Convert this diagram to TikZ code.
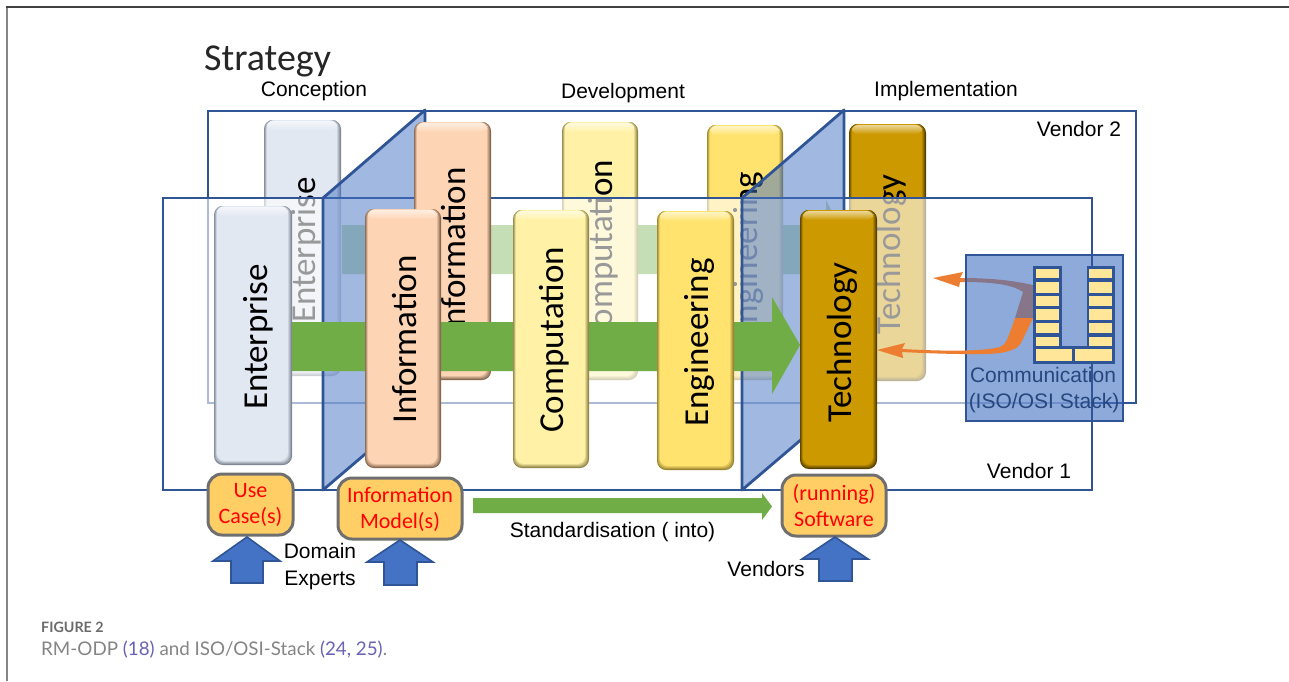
\documentclass[tikz,border=0pt]{standalone}
\usepackage{fontspec}
\setmainfont{Carlito}
\newfontfamily\arialf{Liberation Sans}
\newfontfamily\capf{Lato}
\definecolor{lineblue}{HTML}{2F5597}
\definecolor{planeblue}{HTML}{4472C4}
\definecolor{arrowgreen}{HTML}{70AD47}
\definecolor{arroworange}{HTML}{ED7D31}
\definecolor{cellyellow}{HTML}{FFE699}
\definecolor{boxorange}{HTML}{FFCF66}
\definecolor{boxgrey}{HTML}{6F6F6F}
\definecolor{capgrey}{HTML}{858585}
\definecolor{capblue}{HTML}{6A62B4}
\definecolor{commtext}{HTML}{27477F}
\definecolor{entbase}{HTML}{E2E8F2}\definecolor{entdark}{HTML}{7F8794}
\definecolor{infbase}{HTML}{FDD5B5}\definecolor{infdark}{HTML}{86664E}
\definecolor{compbase}{HTML}{FFF2A6}\definecolor{compdark}{HTML}{928548}
\definecolor{engbase}{HTML}{FFE36E}\definecolor{engdark}{HTML}{98822F}
\definecolor{techbase}{HTML}{CC9900}\definecolor{techdark}{HTML}{574000}
\tikzset{
  vendorline/.style={draw=lineblue,line width=2.8pt},
  planeshape/.style={fill=planeblue,fill opacity=0.5,draw=lineblue,draw opacity=1,line width=2.8pt,line join=round},
  bartext/.style={rotate=90,anchor=base,inner sep=0pt,font=\fontsize{35}{37}\selectfont,text=black},
  labeltext/.style={inner sep=0pt,font=\arialf\fontsize{21}{27}\selectfont,text=black,align=center},
  usebox/.style={draw=boxgrey,fill=boxorange,line width=3pt,rounded corners=14pt},
  redtext/.style={inner sep=0pt,align=center,text=red,font=\fontsize{22}{26}\selectfont},
  bluearrow/.style={fill=planeblue,draw=lineblue,line width=1.6pt,line join=miter},
  stackcell/.style={fill=cellyellow,draw=none},
}
\newcommand{\odpbar}[6]{% x1 y1 x2 y2 base dark
  \fill[#6,rounded corners=9pt] (#1,#2) rectangle (#3,#4);
  \foreach \i/\p in {1/25,2/50,3/75,4/100}{
    \fill[#5!\p!#6,rounded corners=8pt] ({#1+0.7*\i},#2) rectangle ({#3-\i},{#4-\i});
  }
  \shade[top color=#5!40!white,bottom color=#5,rounded corners=6pt] ({#1+3},{#2+1}) rectangle ({#3-4},{#2+10});
}
\begin{document}
\begin{tikzpicture}[x=1pt,y=-1pt]
\useasboundingbox (0,0) rectangle (1289,681);
\fill[white] (0,0) rectangle (1289,681);
% page frame
\draw[color=capgrey,line width=2pt] (7,7) -- (7,681);
\draw[color=black!75,line width=1.6pt] (6,7) -- (1289,7);
% vendor 2
\draw[vendorline] (208,111) rectangle (1136,403);
% back arrow
\fill[arrowgreen] (342,225) -- (826,225) -- (826,200) -- (851,249) -- (826,298) -- (826,274) -- (342,274) -- cycle;
% back bars
\odpbar{264}{120}{341}{376}{entbase}{entdark}
\odpbar{562}{122}{638}{380}{compbase}{compdark}
\odpbar{707}{125}{783}{380}{engbase}{engdark}
\odpbar{849}{124}{926}{381}{techbase}{techdark}
\node[bartext] (backent) at (315,250) {Enterprise};
\node[bartext] (backcomp) at (612,253) {Computation};
\node[bartext] (backeng) at (757,256) {Engineering};
\node[bartext] (backtech) at (900,254.5) {Technology};
% vendor 1 veil and outline
\fill[white,fill opacity=0.6] (163,198) rectangle (1092,490);
\draw[vendorline] (163,198) rectangle (1092,490);
% planes
\draw[planeshape] (323,490) -- (323,198) -- (425,110) -- (425,403) -- cycle;
\draw[planeshape] (742,490) -- (742,198) -- (844,110) -- (844,403) -- cycle;
% back information bar stands in front of the plane
\odpbar{414}{122}{491}{380}{infbase}{infdark}
\node[bartext] (backinf) at (465,251.5) {Information};
% front arrow
\fill[arrowgreen] (291,322) -- (772,322) -- (772,297) -- (800,345) -- (772,394) -- (772,371) -- (291,371) -- cycle;
% front bars
\odpbar{214}{206}{292}{465}{entbase}{entdark}
\odpbar{365}{209}{441}{468}{infbase}{infdark}
\odpbar{513}{210}{589}{468}{compbase}{compdark}
\odpbar{657}{211}{734}{470}{engbase}{engdark}
\odpbar{800}{210}{877}{469}{techbase}{techdark}
\node[bartext] (frontent) at (267,337) {Enterprise};
\node[bartext] (frontinf) at (416,339.5) {Information};
\node[bartext] (frontcomp) at (563,340) {Computation};
\node[bartext] (fronteng) at (708,342.5) {Engineering};
\node[bartext] (fronttech) at (851,342.5) {Technology};
% upper orange arrow (runs under the comm box)
\fill[arroworange] (1033,285) .. controls (1010,280) and (990,278) .. (960,278)
  -- (963,272) -- (933,278) -- (959,287) -- (960,282)
  .. controls (985,282) and (1010,283) .. (1023,292) -- (1015,318) -- (1033,318) -- cycle;
% comm box
\fill[planeblue,fill opacity=0.6] (966,255) rectangle (1123,421);
\draw[vendorline] (966,255) rectangle (1123,421);
% lower orange arrow
\fill[arroworange] (1033,318) -- (1015,318) .. controls (1008,338) and (1006,345) .. (1000,347)
  .. controls (980,352) and (940,351) .. (902,349)
  -- (905,343) -- (877,350) -- (903,358) -- (902,352)
  .. controls (940,354) and (985,355) .. (1000,353)
  .. controls (1012,351) and (1018,348) .. (1021,343) -- cycle;
% vendor 1 right side over the comm box
\coordinate (vtop) at (1092,198);
\coordinate (vbot) at (1092,490);
\draw[vendorline] (vtop) -- (vbot);
% stacks
\fill[lineblue] (1033,266) rectangle (1062,349);
\fill[lineblue] (1087,266) rectangle (1115,349);
\fill[lineblue] (1033,346) rectangle (1115,364);
\foreach \a/\b in {269/278,282/293,296/306,309/320,323/333,337/346}{
  \fill[stackcell] (1036,\a) rectangle (1059,\b);
  \fill[stackcell] (1089,\a) rectangle (1112,\b);
}
\fill[stackcell] (1036,349) rectangle (1072,361);
\fill[stackcell] (1075,349) rectangle (1112,361);
\node[labeltext,text=commtext] (commone) at (1043,375) {Communication};
\node[labeltext,text=commtext] (commtwo) at (1044,403) {(ISO/OSI Stack)};
% bottom boxes
\node[usebox,minimum width=85pt,minimum height=61pt,inner sep=0pt] (usecase) at (250.5,504.5) {};
\node[usebox,minimum width=124pt,minimum height=61pt,inner sep=0pt] (infomodel) at (400,508.5) {};
\node[usebox,minimum width=104pt,minimum height=61pt,inner sep=0pt] (software) at (834,505.5) {};
\node[redtext] (usetext) at (250.5,505) {Use\\Case(s)};
\node[redtext] (infotext) at (400,509.5) {Information\\Model(s)};
\node[redtext] (softtext) at (834,506) {(running)\\Software};
% standardisation arrow
\fill[arrowgreen] (473,498) -- (762,498) -- (762,493) -- (772,506.5) -- (762,520) -- (762,513) -- (473,513) -- cycle;
% blue arrows
\draw[bluearrow] (247,537) -- (280,561) -- (263,561) -- (263,583) -- (231,583) -- (231,561) -- (213,561) -- cycle;
\draw[bluearrow] (400,540) -- (433,562) -- (417,562) -- (417,585) -- (384,585) -- (384,562) -- (367,562) -- cycle;
\draw[bluearrow] (835,537) -- (868,559) -- (852,559) -- (852,581) -- (819,581) -- (819,559) -- (802,559) -- cycle;
% labels
\node[inner sep=0pt,anchor=base west,font=\fontsize{38}{40}\selectfont,text=black!85] (strategy) at (204,70) {Strategy};
\node[labeltext] (conception) at (314,91) {Conception};
\node[labeltext] (development) at (623,93.5) {Development};
\node[labeltext] (implementation) at (946,91) {Implementation};
\node[labeltext] (vendortwo) at (1079,128.5) {Vendor 2};
\node[labeltext] (vendorone) at (1029,470.5) {Vendor 1};
\node[labeltext] (standard) at (612.5,532) {Standardisation ( into)};
\node[labeltext] (domain) at (320,567) {Domain\\Experts};
\node[labeltext] (vendors) at (766,568.5) {Vendors};
% caption
\node[inner sep=0pt,anchor=base west,font=\capf\bfseries\fontsize{14.3}{16}\selectfont,text=black!58] (figlabel) at (41,632) {FIGURE 2};
\node[inner sep=0pt,anchor=base west,font=\capf\fontsize{18.8}{22}\selectfont,text=capgrey] (figcap) at (41,655) {RM-ODP \textcolor{capblue}{(18)} and ISO/OSI-Stack \textcolor{capblue}{(24, 25)}.};
\end{tikzpicture}
\end{document}
